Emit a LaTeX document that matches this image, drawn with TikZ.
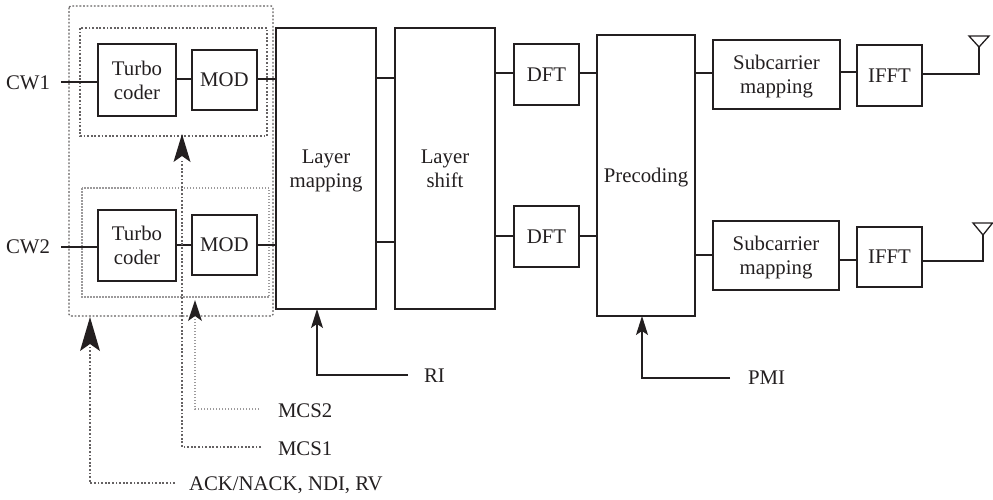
\documentclass[tikz,border=0pt]{standalone}
\usepackage{fontspec}
\setmainfont{Liberation Serif}
\usetikzlibrary{arrows.meta}
\definecolor{ink}{HTML}{231F20}
\tikzset{
  blockbase/.style={draw=ink,line width=1.7pt,outer sep=0pt,inner sep=0pt,align=center,text=ink,text depth=0pt,font=\fontsize{20.8}{24}\selectfont},
  thinblock/.style={blockbase,line width=1.2pt},
  wire/.style={draw=ink,line width=1.5pt},
  thinwire/.style={draw=ink,line width=1.2pt},
  dots/.style={draw=ink!70,line width=1.5pt,dash pattern=on 1.8pt off 1.8pt},
  lightdots/.style={draw=ink!45,line width=1.2pt,dash pattern=on 1.5pt off 1.5pt},
  label/.style={text=ink,inner sep=0pt,outer sep=0pt,font=\fontsize{20.8}{24}\selectfont},
  ant/.style={draw=ink,line width=1.3pt,line join=miter},
}
% name, x1, y1, x2, y2, style, text
\newcommand{\blk}[7]{%
  \pgfmathsetmacro{\cxx}{(#2+#4)/2}\pgfmathsetmacro{\cyy}{(#3+#5)/2}%
  \pgfmathsetmacro{\wdd}{#4-#2}\pgfmathsetmacro{\htt}{#5-#3}%
  \node[#6,minimum width=\wdd pt,minimum height=\htt pt] (#1) at (\cxx,\cyy) {#7};}
\newcommand{\conn}[4][wire]{\draw[#1] (#2.east |- 0,#4) -- (#3.west |- 0,#4);}
\begin{document}
\begin{tikzpicture}[x=1pt,y=-1pt]
\useasboundingbox (0,0) rectangle (993,499);
% dotted groups
\draw[dots,rounded corners=1.5pt,line width=1.3pt] (69,6) rectangle (273,316);
\draw[dots] (80,28) rectangle (267,136);
\draw[lightdots] (82,188) rectangle (269,297);
% blocks
\blk{turboA}{98}{44}{176}{116}{thinblock}{Turbo\\coder}
\blk{modA}{192}{50}{257}{110}{blockbase}{MOD}
\blk{turboB}{98}{210}{176}{281}{thinblock}{Turbo\\coder}
\blk{modB}{192}{215}{257}{275}{blockbase}{MOD}
\blk{lm}{276}{28}{376}{309}{blockbase}{Layer\\mapping}
\blk{ls}{395}{28}{495}{309}{blockbase}{Layer\\shift}
\blk{dftA}{514}{44}{579}{105}{blockbase}{DFT}
\blk{dftB}{514}{206}{579}{267}{blockbase}{DFT}
\blk{prec}{597}{35}{695}{316}{blockbase}{Precoding}
\blk{subA}{713}{40}{840}{109}{thinblock}{Subcarrier\\mapping}
\blk{subB}{713}{221}{839}{290}{thinblock}{Subcarrier\\mapping}
\blk{ifftA}{857}{45}{922}{106}{blockbase}{IFFT}
\blk{ifftB}{857}{227}{922}{287}{blockbase}{IFFT}
% labels
\node[label,anchor=west] (cwA) at (6,83) {CW1};
\node[label,anchor=west] (cwB) at (6,247) {CW2};
\node[label,anchor=west] (ri) at (424,376) {RI};
\node[label,anchor=west] (pmi) at (748,378) {PMI};
\node[label,anchor=west] (mcsB) at (278,411) {MCS2};
\node[label,anchor=west] (mcsA) at (278,449) {MCS1};
\node[label,anchor=west] (ack) at (189,485) {ACK/NACK, NDI, RV};
% free line ends
\coordinate (cwAend) at (61,82);
\coordinate (cwBend) at (61,247);
\coordinate (riend) at (408,375);
\coordinate (pmiend) at (730,378);
\coordinate (mcsBend) at (259,409);
\coordinate (mcsAend) at (261,447);
\coordinate (ackend) at (175,483);
% forward connectors
\draw[thinwire] (cwAend) -- (turboA.west |- cwAend);
\draw[thinwire] (cwBend) -- (turboB.west |- cwBend);
\conn{turboA}{modA}{79}
\conn{turboB}{modB}{245}
\conn{modA}{lm}{79}
\conn{modB}{lm}{245}
\conn{lm}{ls}{78}
\conn{lm}{ls}{242}
\conn{ls}{dftA}{73}
\conn{ls}{dftB}{236}
\conn{dftA}{prec}{73}
\conn{dftB}{prec}{236}
\conn{prec}{subA}{73}
\conn{prec}{subB}{255}
\conn{subA}{ifftA}{72}
\conn[thinwire]{subB}{ifftB}{260}
% antennas
\coordinate (apexA) at (979,47);
\coordinate (apexB) at (983,235);
\draw[ant] (ifftA.east |- 0,74) -- (979,74) -- (apexA);
\draw[ant] (ifftB.east |- 0,261) -- (983,261) -- (apexB);
\draw[ant] (969,36) -- (989,36) -- (apexA) -- cycle;
\draw[ant] (973,223) -- (992.5,223) -- (apexB) -- cycle;
% control arrows
\draw[wire,-{Stealth[length=19pt,width=12pt,inset=4pt]}] (riend) -- (317,375) -- (lm.south -| 317,0);
\draw[wire,-{Stealth[length=19pt,width=12pt,inset=4pt]}] (pmiend) -- (642,378) -- (prec.south -| 642,0);
\draw[lightdots,line width=1.3pt] (mcsBend) -- (195,409) -- (195,318);
\draw[dots] (mcsAend) -- (182,447) -- (182,160);
\draw[dots] (ackend) -- (90,483) -- (90,345);
\fill[ink] (195,300) -- (202,321) -- (195,316) -- (188,321) -- cycle;
\fill[ink] (182,134) -- (190.5,162) -- (182,156) -- (173.5,162) -- cycle;
\fill[ink] (90,317) -- (100,351) -- (90,344) -- (80,351) -- cycle;
\end{tikzpicture}
\end{document}
